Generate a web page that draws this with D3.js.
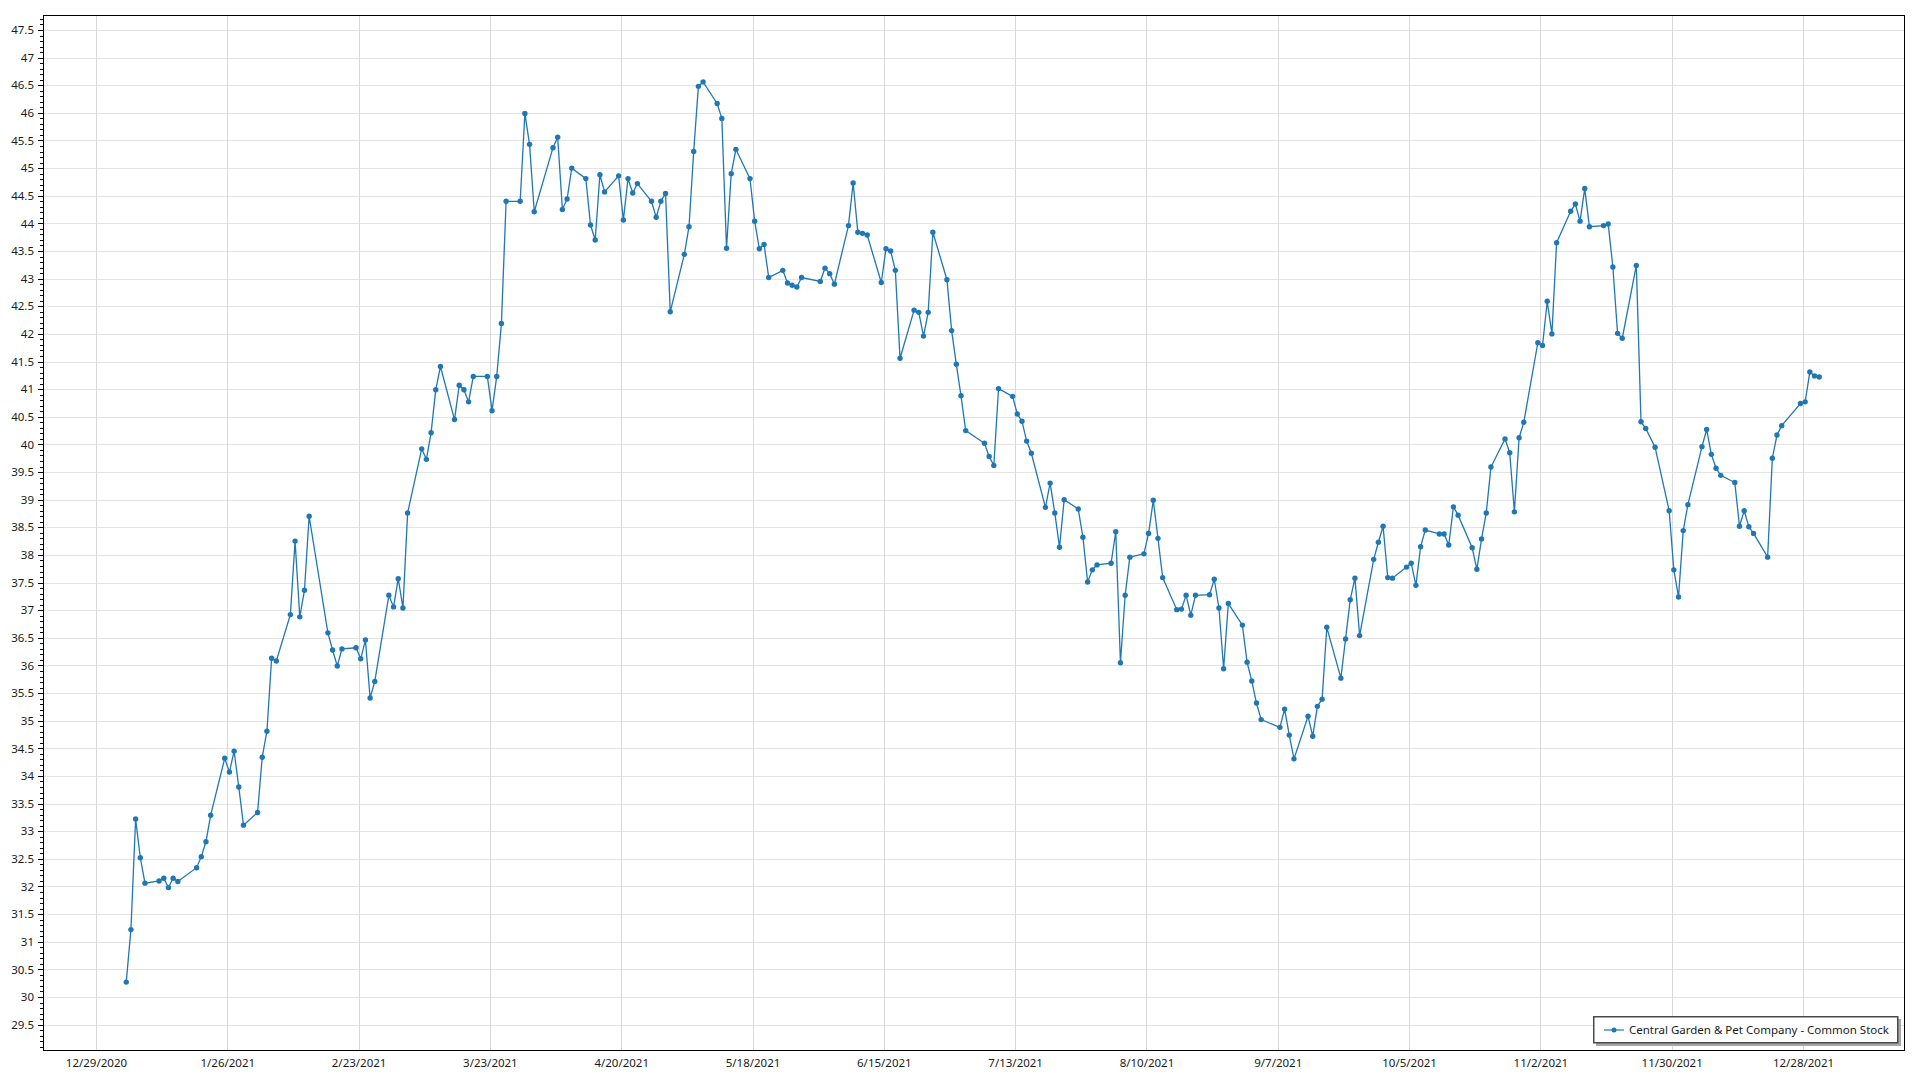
<!DOCTYPE html>
<html>
<head>
<meta charset="utf-8">
<script src="https://cdn.jsdelivr.net/npm/d3@7"></script>
<style>
  html, body { margin: 0; padding: 0; background: #fff; }
  svg { display: block; font-family: "Noto Sans", "Open Sans", sans-serif; }
</style>
</head>
<body>
<svg id="chart" width="1920" height="1080"></svg>
<script>
// ---------------- DATA ----------------
const seriesName = "Central Garden & Pet Company - Common Stock";
const year = 2021;

const dates = [
  "1/4","1/5","1/6","1/7","1/8","1/11","1/12","1/13","1/14","1/15","1/19","1/20","1/21","1/22","1/25","1/26","1/27","1/28","1/29",
  "2/1","2/2","2/3","2/4","2/5","2/8","2/9","2/10","2/11","2/12","2/16","2/17","2/18","2/19","2/22","2/23","2/24","2/25","2/26",
  "3/1","3/2","3/3","3/4","3/5","3/8","3/9","3/10","3/11","3/12","3/15","3/16","3/17","3/18","3/19","3/22","3/23","3/24","3/25","3/26","3/29","3/30","3/31",
  "4/1","4/5","4/6","4/7","4/8","4/9","4/12","4/13","4/14","4/15","4/16","4/19","4/20","4/21","4/22","4/23","4/26","4/27","4/28","4/29","4/30",
  "5/3","5/4","5/5","5/6","5/7","5/10","5/11","5/12","5/13","5/14","5/17","5/18","5/19","5/20","5/21","5/24","5/25","5/26","5/27","5/28",
  "6/1","6/2","6/3","6/4","6/7","6/8","6/9","6/10","6/11","6/14","6/15","6/16","6/17","6/18","6/21","6/22","6/23","6/24","6/25","6/28","6/29","6/30",
  "7/1","7/2","7/6","7/7","7/8","7/9","7/12","7/13","7/14","7/15","7/16","7/19","7/20","7/21","7/22","7/23","7/26","7/27","7/28","7/29","7/30",
  "8/2","8/3","8/4","8/5","8/6","8/9","8/10","8/11","8/12","8/13","8/16","8/17","8/18","8/19","8/20","8/23","8/24","8/25","8/26","8/27","8/30","8/31",
  "9/1","9/2","9/3","9/7","9/8","9/9","9/10","9/13","9/14","9/15","9/16","9/17","9/20","9/21","9/22","9/23","9/24","9/27","9/28","9/29","9/30",
  "10/1","10/4","10/5","10/6","10/7","10/8","10/11","10/12","10/13","10/14","10/15","10/18","10/19","10/20","10/21","10/22","10/25","10/26","10/27","10/28","10/29",
  "11/1","11/2","11/3","11/4","11/5","11/8","11/9","11/10","11/11","11/12","11/15","11/16","11/17","11/18","11/19","11/22","11/23","11/24","11/26","11/29","11/30",
  "12/1","12/2","12/3","12/6","12/7","12/8","12/9","12/10","12/13","12/14","12/15","12/16","12/17","12/20","12/21","12/22","12/23","12/27","12/28","12/29","12/30","12/31"
];

const prices = [
  30.27,31.22,33.22,32.52,32.06,32.10,32.15,31.98,32.15,32.09,32.34,32.54,32.81,33.29,34.32,34.07,34.45,33.80,33.11,
  33.34,34.34,34.81,36.13,36.08,36.92,38.25,36.88,37.36,38.70,36.59,36.28,35.99,36.30,36.32,36.12,36.46,35.41,35.71,
  37.27,37.06,37.57,37.04,38.76,39.92,39.73,40.21,40.99,41.41,40.45,41.07,40.99,40.77,41.23,41.23,40.61,41.23,42.19,44.40,44.40,45.99,45.43,
  44.21,45.37,45.56,44.25,44.44,45.00,44.81,43.97,43.70,44.88,44.57,44.86,44.06,44.81,44.55,44.72,44.40,44.11,44.40,44.54,42.40,
  43.44,43.94,45.30,46.48,46.56,46.17,45.90,43.55,44.90,45.34,44.81,44.04,43.54,43.62,43.02,43.15,42.92,42.88,42.85,43.02,
  42.95,43.19,43.09,42.90,43.96,44.73,43.84,43.82,43.79,42.93,43.54,43.50,43.15,41.56,42.43,42.39,41.96,42.39,43.84,42.98,42.06,41.45,
  40.88,40.25,40.02,39.78,39.62,41.01,40.87,40.55,40.42,40.06,39.84,38.86,39.30,38.76,38.14,39.00,38.83,38.32,37.51,37.73,37.82,
  37.85,38.42,36.05,37.27,37.96,38.02,38.39,38.99,38.30,37.59,37.01,37.02,37.27,36.91,37.27,37.28,37.56,37.04,35.94,37.12,36.73,36.06,
  35.72,35.32,35.02,34.88,35.21,34.74,34.31,35.08,34.72,35.26,35.39,36.69,35.77,36.48,37.19,37.58,36.54,37.92,38.23,38.52,37.59,
  37.58,37.78,37.85,37.45,38.15,38.45,38.38,38.38,38.18,38.87,38.72,38.13,37.74,38.29,38.76,39.59,40.10,39.85,38.78,40.12,40.40,
  41.84,41.79,42.59,42.00,43.65,44.22,44.35,44.04,44.63,43.94,43.96,43.99,43.21,42.01,41.92,43.24,40.41,40.29,39.95,38.80,37.73,
  37.24,38.44,38.91,39.96,40.27,39.82,39.57,39.44,39.31,38.52,38.80,38.51,38.39,37.96,39.75,40.17,40.34,40.74,40.77,41.31,41.24,41.22
];

const xTickLabels = ["12/29/2020","1/26/2021","2/23/2021","3/23/2021","4/20/2021","5/18/2021","6/15/2021",
  "7/13/2021","8/10/2021","9/7/2021","10/5/2021","11/2/2021","11/30/2021","12/28/2021"];

const yTickValues = [29.5,30,30.5,31,31.5,32,32.5,33,33.5,34,34.5,35,35.5,36,36.5,37,37.5,38,38.5,39,39.5,
  40,40.5,41,41.5,42,42.5,43,43.5,44,44.5,45,45.5,46,46.5,47,47.5];

// ---------------- LAYOUT ----------------
const plot = { left: 43, top: 15, right: 1905, bottom: 1050 };
const color = "#1f77b4";
const fontSize = 11.5;

const parseDate = d3.timeParse("%m/%d/%Y");
const data = dates.map((d, i) => ({ date: d3.timeHour.offset(parseDate(d + "/" + year), 11), value: prices[i] }));
const xTicks = xTickLabels.map(parseDate);

const x = d3.scaleTime()
  .domain([d3.timeHour.offset(parseDate("12/29/2020"), -271), d3.timeHour.offset(parseDate("12/28/2021"), 522)])
  .range([plot.left, plot.right]);
const y = d3.scaleLinear()
  .domain([29.041, 47.771])
  .range([plot.bottom, plot.top]);

const svg = d3.select("#chart");

// grid
const grid = svg.append("g").attr("shape-rendering", "crispEdges");
grid.selectAll("line.h").data(yTickValues).join("line")
  .attr("class", "h")
  .attr("x1", plot.left).attr("x2", plot.right)
  .attr("y1", d => Math.round(y(d)) + 0.5).attr("y2", d => Math.round(y(d)) + 0.5)
  .attr("stroke", "#e4e4e4").attr("stroke-width", 1);
grid.selectAll("line.v").data(xTicks).join("line")
  .attr("class", "v")
  .attr("x1", d => Math.round(x(d)) + 0.5).attr("x2", d => Math.round(x(d)) + 0.5)
  .attr("y1", plot.top).attr("y2", plot.bottom)
  .attr("stroke", "#d9d9d9").attr("stroke-width", 1);

// minor y ticks
const minorTicks = d3.range(291, 478).map(v => v / 10).filter(v => Math.abs(v * 2 - Math.round(v * 2)) > 1e-6);
const yMinor = svg.append("g").attr("transform", `translate(${plot.left},0)`)
  .call(d3.axisLeft(y).tickValues(minorTicks).tickSize(3).tickFormat(""));
yMinor.select(".domain").remove();
yMinor.selectAll("line").attr("stroke", "#000").attr("shape-rendering", "crispEdges");

// major y axis
const yAxis = svg.append("g").attr("transform", `translate(${plot.left},0)`)
  .call(d3.axisLeft(y).tickValues(yTickValues).tickSize(5).tickPadding(4).tickFormat(d => String(d)));
yAxis.select(".domain").remove();
yAxis.selectAll("line").attr("stroke", "#000").attr("shape-rendering", "crispEdges");
yAxis.selectAll("text").attr("font-size", fontSize).attr("fill", "#1a1a1a").attr("font-family", "'Noto Sans', sans-serif");

// x axis
const xAxis = svg.append("g").attr("transform", `translate(0,${plot.bottom})`)
  .call(d3.axisBottom(x).tickValues(xTicks).tickSize(0).tickPadding(8.5).tickFormat(d3.timeFormat("%-m/%-d/%Y")));
xAxis.select(".domain").remove();
xAxis.selectAll("text").attr("font-size", fontSize).attr("fill", "#1a1a1a").attr("font-family", "'Noto Sans', sans-serif");

// frame
svg.append("rect")
  .attr("x", plot.left + 0.5).attr("y", plot.top + 0.5)
  .attr("width", plot.right - plot.left - 1).attr("height", plot.bottom - plot.top)
  .attr("fill", "none").attr("stroke", "#000").attr("stroke-width", 1)
  .attr("shape-rendering", "crispEdges");

// line + markers
const line = d3.line().x(d => x(d.date)).y(d => y(d.value));
svg.append("path").datum(data)
  .attr("d", line).attr("fill", "none").attr("stroke", color).attr("stroke-width", 1.3);
svg.append("g").selectAll("circle").data(data).join("circle")
  .attr("cx", d => x(d.date)).attr("cy", d => y(d.value)).attr("r", 2.7)
  .attr("fill", color);

// legend
const lg = svg.append("g").attr("transform", "translate(1593,1016)");
lg.append("rect").attr("x", 3).attr("y", 3).attr("width", 305).attr("height", 27).attr("fill", "#a8a8a8");
lg.append("rect").attr("x", 0.75).attr("y", 0.75).attr("width", 304).attr("height", 26)
  .attr("fill", "#fff").attr("stroke", "#4a4a4a").attr("stroke-width", 1.5);
lg.append("line").attr("x1", 11).attr("x2", 31).attr("y1", 14).attr("y2", 14)
  .attr("stroke", color).attr("stroke-opacity", 0.6).attr("stroke-width", 2);
lg.append("circle").attr("cx", 21).attr("cy", 14).attr("r", 2.5).attr("fill", color);
lg.append("text").attr("x", 36).attr("y", 14).attr("dy", "0.35em")
  .attr("font-size", fontSize).attr("fill", "#1a1a1a").text(seriesName);
</script>
</body>
</html>
